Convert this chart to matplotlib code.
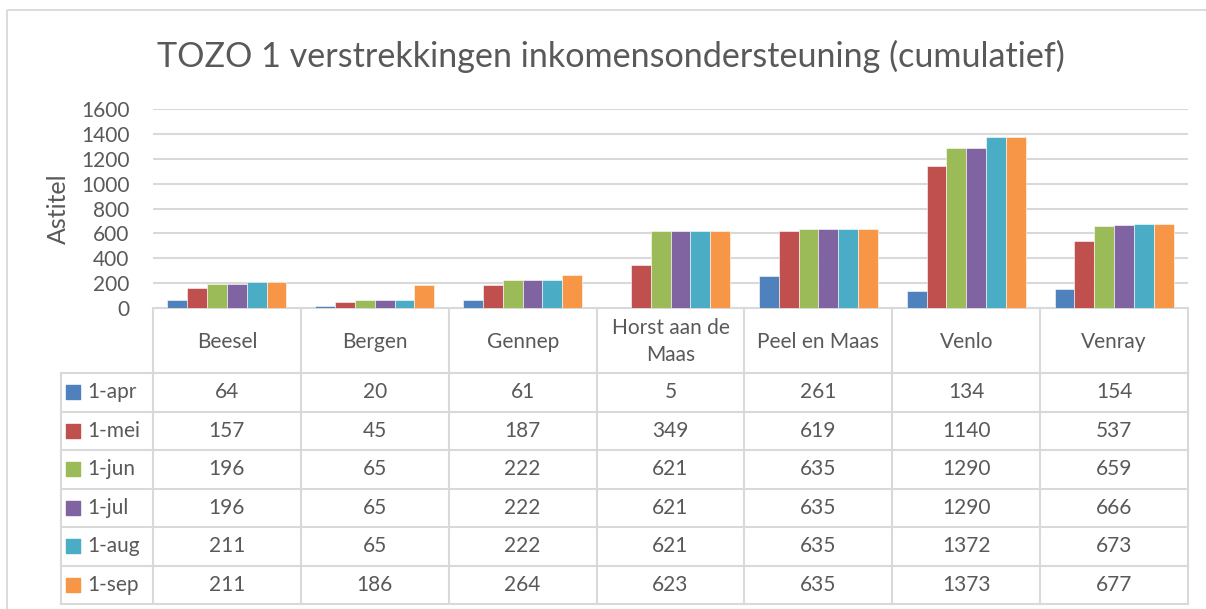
import matplotlib.pyplot as plt
from matplotlib.patches import Rectangle
import numpy as np

plt.rcParams['font.family'] = ['Lato', 'DejaVu Sans']

# data
gemeenten = ['Beesel', 'Bergen', 'Gennep', 'Horst aan de\nMaas', 'Peel en Maas', 'Venlo', 'Venray']
datums = ['1-apr', '1-mei', '1-jun', '1-jul', '1-aug', '1-sep']
apr = [64, 20, 61, 5, 261, 134, 154]
mei = [157, 45, 187, 349, 619, 1140, 537]
jun = [196, 65, 222, 621, 635, 1290, 659]
jul = [196, 65, 222, 621, 635, 1290, 666]
aug = [211, 65, 222, 621, 635, 1372, 673]
sep = [211, 186, 264, 623, 635, 1373, 677]
reeksen = [apr, mei, jun, jul, aug, sep]
kleuren = ['#4F81BD', '#C0504D', '#9BBB59', '#8064A2', '#4BACC6', '#F79646']

W, H = 1206, 609
tekst = '#595959'
lijn = '#D9D9D9'

fig = plt.figure(figsize=(W / 100, H / 100), dpi=100)

# rand om de grafiek
fig.patches.append(Rectangle((7 / W, 1 - 10 / H), 1.0, -1.0, transform=fig.transFigure,
                             fill=False, edgecolor=lijn, linewidth=1.3))

x0, x1 = 153, 1188
y_nul, y_top = 308, 109
ax = fig.add_axes([x0 / W, 1 - y_nul / H, (x1 - x0) / W, (y_nul - y_top) / H])

n = len(reeksen)
breedte = 0.134
x = np.arange(len(gemeenten))
for i, (vals, kleur) in enumerate(zip(reeksen, kleuren)):
    ax.bar(x + (i - (n - 1) / 2) * breedte, vals, breedte, color=kleur,
           edgecolor='white', linewidth=0.4, zorder=3)

ax.set_xlim(-0.5, len(gemeenten) - 0.5)
ax.set_ylim(0, 1600)
ax.set_yticks(range(0, 1601, 200))
ax.tick_params(axis='y', length=0, labelsize=15, labelcolor=tekst, pad=17)
ax.set_xticks([])
ax.grid(axis='y', color=lijn, linewidth=1.5, zorder=0)
for s in ax.spines.values():
    s.set_visible(False)
ax.set_ylabel('Astitel', fontsize=18, color=tekst, labelpad=8)

fig.text(611 / W, 1 - 56 / H, 'TOZO 1 verstrekkingen inkomensondersteuning (cumulatief)',
         ha='center', va='center', fontsize=24.6, color=tekst)

# datatabel
tx0, ty0, ty1 = 61, 308, 604
kop = 65
rij = (ty1 - ty0 - kop) / n
tab = fig.add_axes([tx0 / W, 1 - ty1 / H, (x1 - tx0) / W, (ty1 - ty0) / H])
links = -0.5 - (x0 - tx0) / ((x1 - x0) / len(gemeenten))
tab.set_xlim(links, len(gemeenten) - 0.5)
tab.set_ylim(ty1 - ty0, 0)
tab.axis('off')

lw = 1.5
tab.plot([-0.5, len(gemeenten) - 0.5], [0, 0], color=lijn, lw=lw)
for r in range(n + 1):
    yy = kop + r * rij
    tab.plot([links, len(gemeenten) - 0.5], [yy, yy], color=lijn, lw=lw, clip_on=False)
for c in range(len(gemeenten) + 1):
    tab.plot([c - 0.5, c - 0.5], [0, ty1 - ty0], color=lijn, lw=lw, clip_on=False)
tab.plot([links, links], [kop, ty1 - ty0], color=lijn, lw=lw, clip_on=False)

for c, naam in enumerate(gemeenten):
    tab.text(c, kop / 2 + 1, naam, ha='center', va='center', fontsize=15, color=tekst,
             linespacing=1.45)

for r, (datum, vals, kleur) in enumerate(zip(datums, reeksen, kleuren)):
    yc = kop + (r + 0.5) * rij
    tab.scatter([links + 0.08], [yc], marker='s', s=95, color=kleur, clip_on=False)
    tab.text(links + 0.18, yc, datum, ha='left', va='center', fontsize=15, color=tekst)
    for c, v in enumerate(vals):
        tab.text(c, yc, str(v), ha='center', va='center', fontsize=15, color=tekst)

fig.savefig('out.png', dpi=100, facecolor='white')
